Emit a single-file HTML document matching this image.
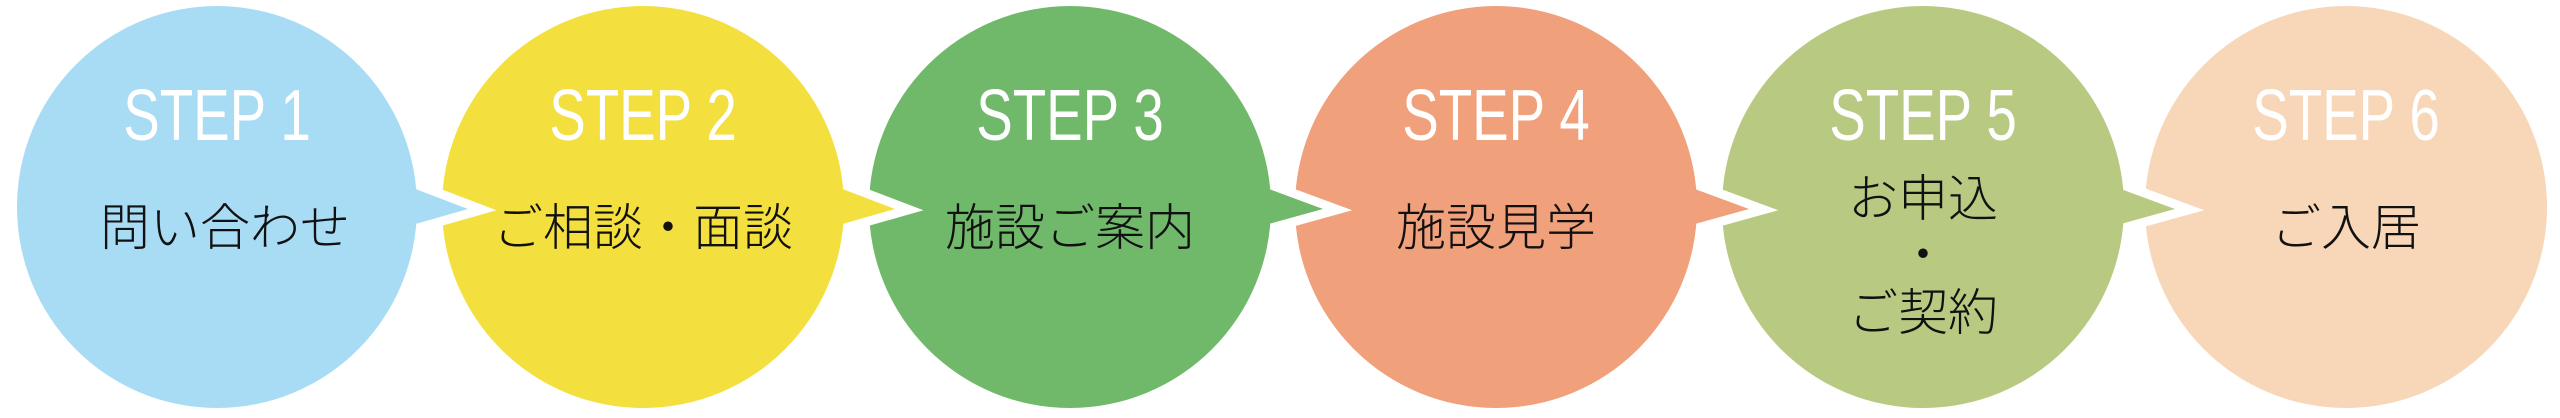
<!DOCTYPE html>
<html><head><meta charset="utf-8">
<style>
html,body{margin:0;padding:0;background:#fff;}
svg{display:block;}
.st{font-family:"Liberation Sans","Noto Sans CJK JP",sans-serif;font-size:72px;fill:#fff;}
.jp{font-family:"Liberation Sans","Noto Sans CJK JP",sans-serif;font-size:50px;fill:#111;font-weight:300;}
</style></head>
<body>
<svg width="2560" height="418" viewBox="0 0 2560 418" xmlns="http://www.w3.org/2000/svg">
<rect width="2560" height="418" fill="#fff"/>
<!-- step 6 -->
<g>
<ellipse cx="2346" cy="207" rx="201" ry="201" fill="#f8d6b8"/>
<text class="st" text-anchor="middle" transform="translate(2346,140) scale(0.76,1)">STEP 6</text>
<text class="jp" x="2346" y="245" text-anchor="middle">ご入居</text>
</g>
<!-- step 5 -->
<g>
<polygon points="2110,185 2175,209 2110,227" fill="#b8c982" stroke="#fff" stroke-width="18" stroke-linejoin="miter"/>
<polygon points="2110,185 2175,209 2110,227" fill="#b8c982"/>
<ellipse cx="1923" cy="207" rx="201" ry="201" fill="#b8c982"/>
<text class="st" text-anchor="middle" transform="translate(1923,140) scale(0.76,1)">STEP 5</text>
<text class="jp" x="1923" y="216" text-anchor="middle">お申込</text>
<text class="jp" x="1923" y="272" text-anchor="middle">・</text>
<text class="jp" x="1923" y="330" text-anchor="middle">ご契約</text>
</g>
<!-- step 4 -->
<g>
<polygon points="1684,185 1749,209 1684,227" fill="#f0a07a" stroke="#fff" stroke-width="18"/>
<polygon points="1684,185 1749,209 1684,227" fill="#f0a07a"/>
<ellipse cx="1496" cy="207" rx="201" ry="201" fill="#f0a07a"/>
<text class="st" text-anchor="middle" transform="translate(1496,140) scale(0.76,1)">STEP 4</text>
<text class="jp" x="1496" y="245" text-anchor="middle">施設見学</text>
</g>
<!-- step 3 -->
<g>
<polygon points="1258,185 1323,209 1258,227" fill="#71b96a" stroke="#fff" stroke-width="18"/>
<polygon points="1258,185 1323,209 1258,227" fill="#71b96a"/>
<ellipse cx="1070" cy="207" rx="201" ry="201" fill="#71b96a"/>
<text class="st" text-anchor="middle" transform="translate(1070,140) scale(0.76,1)">STEP 3</text>
<text class="jp" x="1070" y="245" text-anchor="middle">施設ご案内</text>
</g>
<!-- step 2 -->
<g>
<polygon points="832,185 895,209 832,227" fill="#f3df3d" stroke="#fff" stroke-width="18"/>
<polygon points="832,185 895,209 832,227" fill="#f3df3d"/>
<ellipse cx="643" cy="207" rx="201" ry="201" fill="#f3df3d"/>
<text class="st" text-anchor="middle" transform="translate(643,140) scale(0.76,1)">STEP 2</text>
<text class="jp" x="643" y="245" text-anchor="middle">ご相談・面談</text>
</g>
<!-- step 1 -->
<g>
<polygon points="405,185 468,209 405,227" fill="#a8dcf5" stroke="#fff" stroke-width="18"/>
<polygon points="405,185 468,209 405,227" fill="#a8dcf5"/>
<ellipse cx="217" cy="207" rx="200" ry="201" fill="#a8dcf5"/>
<text class="st" text-anchor="middle" transform="translate(217,140) scale(0.76,1)">STEP 1</text>
<text class="jp" x="225" y="245" text-anchor="middle">問い合わせ</text>
</g>
</svg>
</body></html>
